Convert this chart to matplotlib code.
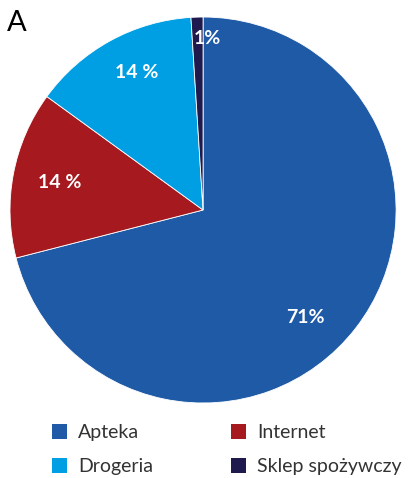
import matplotlib
matplotlib.use("Agg")
import matplotlib.pyplot as plt
import numpy as np

categories = ["Apteka", "Internet", "Drogeria", "Sklep spożywczy"]
values = [71, 14, 14, 1]
pct_labels = ["71%", "14 %", "14 %", "1%"]
colors = ["#1f5aa6", "#a6191e", "#009fe3", "#1e1a4d"]
legend_order = [0, 2, 1, 3]  # column-major fill -> rows: Apteka/Internet, Drogeria/Sklep

FONT = ["Lato", "DejaVu Sans"]
plt.rcParams["font.family"] = FONT

fig = plt.figure(figsize=(4.09, 4.78), dpi=100)
ax = fig.add_axes([0.02445, 0.1569, 0.944, 0.8075])

wedges, _ = ax.pie(values, colors=colors, startangle=90, counterclock=False,
                   radius=1.0,
                   wedgeprops=dict(edgecolor="white", linewidth=0.6))
ax.set_xlim(-1, 1)
ax.set_ylim(-1, 1)
ax.set_aspect("auto")
ax.axis("off")

# label placement: (angle offset from wedge middle in degrees, radius fraction)
label_pos = [(-8.8, 0.77), (0.0, 0.755), (-3.2, 0.79), (-3.1, 0.89)]
for w, lab, (off, r) in zip(wedges, pct_labels, label_pos):
    mid = np.deg2rad((w.theta1 + w.theta2) / 2 + off)
    ax.text(r * np.cos(mid), r * np.sin(mid), lab, ha="center", va="center",
            color="white", fontsize=14, fontweight="bold")

fig.text(0.018, 0.952, "A", fontsize=21, ha="left", va="center", color="black")

leg = fig.legend([wedges[i] for i in legend_order],
                 [categories[i] for i in legend_order],
                 loc="upper left", bbox_to_anchor=(0.127, 0.112),
                 ncol=2, frameon=False,
                 prop=dict(family=FONT, size=14),
                 handlelength=0.77, handleheight=0.77, handletextpad=0.57,
                 columnspacing=4.0, labelspacing=0.85, borderpad=0, borderaxespad=0,
                 labelcolor="#333333")
for h in leg.legend_handles:
    h.set_edgecolor("none")

fig.savefig("out.png", dpi=100)
